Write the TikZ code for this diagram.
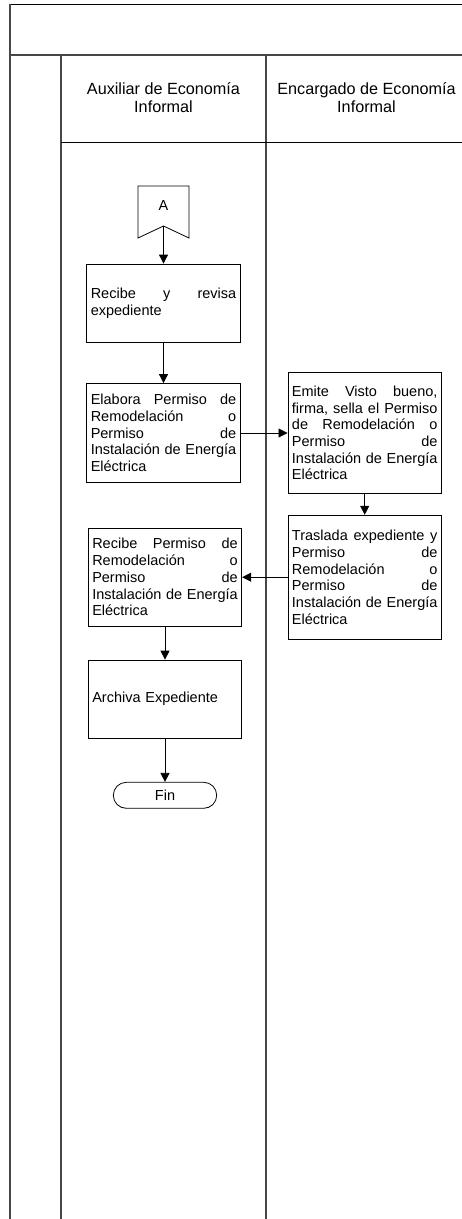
\documentclass[tikz,border=0pt]{standalone}
\usepackage{fontspec}
\setmainfont{Liberation Sans}
\usetikzlibrary{arrows.meta}
\begin{document}
\begin{tikzpicture}[x=1pt,y=-1pt,
  lane/.style={line width=1.7pt, draw=black!72},
  thinlane/.style={line width=1pt, draw=black},
  box/.style={draw, line width=0.8pt, text width=145.5pt, inner xsep=4pt, inner ysep=0pt,
    font=\fontsize{14.5}{16.7}\selectfont, align=left},
  flow/.style={line width=0.8pt, -{Triangle[length=9pt,width=9pt]}},
  head/.style={font=\fontsize{16.2}{18}\selectfont, align=center},
  term/.style={draw, line width=0.8pt, rounded corners=13pt, minimum width=103.4pt,
    minimum height=26pt, inner sep=0pt, font=\fontsize{14.5}{16.7}\selectfont}
]
\useasboundingbox (0,0) rectangle (462,1219);
% swimlane frame
\draw[thinlane] (10,4) -- (462,4);
\draw[lane] (10,4) -- (10,1219);
\draw[lane] (10,55) -- (462,55);
\draw[lane] (61,55) -- (61,1219);
\draw[lane] (266,55) -- (266,1219);
\draw[thinlane] (61,142) -- (462,142);
% headers
\node[head] (h1) at (163.5,98) {Auxiliar de Economía\\Informal};
\node[head] (h2) at (366.5,98) {Encargado de Economía\\Informal};
% off-page connector A
\draw[line width=0.8pt] (138,186) -- (189,186) -- (189,238) -- (163.5,226) -- (138,238) -- cycle;
\node[font=\fontsize{14.5}{16.7}\selectfont] (A) at (163.5,206) {A};
\coordinate (Abot) at (163.5,226);
% process boxes
\node[box, minimum height=78pt] (r1) at (163.5,303)
  {Recibe\hfill y\hfill revisa\\expediente};
\node[box, minimum height=99pt] (r2) at (163.5,433)
  {Elabora\hfill Permiso\hfill de\\Remodelación\hfill o\\Permiso\hfill de\\Instalación\hfill de\hfill Energía\\Eléctrica};
\node[box, minimum height=120.6pt] (r3) at (364.7,433)
  {Emite\hfill Visto\hfill bueno,\\firma,\hfill sella\hfill el\hfill Permiso\\de\hfill Remodelación\hfill o\\Permiso\hfill de\\Instalación\hfill de\hfill Energía\\Eléctrica};
\node[box, minimum height=124pt] (r4) at (364.7,577.2)
  {Traslada\hfill expediente\hfill y\\Permiso\hfill de\\Remodelación\hfill o\\Permiso\hfill de\\Instalación\hfill de\hfill Energía\\Eléctrica};
\node[box, minimum height=98.4pt] (r5) at (165,577.2)
  {Recibe\hfill Permiso\hfill de\\Remodelación\hfill o\\Permiso\hfill de\\Instalación\hfill de\hfill Energía\\Eléctrica};
\node[box, minimum height=78.3pt] (r6) at (165,699.2)
  {Archiva Expediente};
\node[term] (fin) at (165,795.3) {Fin};
% connectors
\draw[flow] (Abot) -- (r1.north);
\draw[flow] (r1.south) -- (r2.north);
\draw[flow] (r2.east) -- (r3.west);
\draw[flow] (r3.south) -- (r4.north);
\draw[flow] (r4.west) -- (r5.east);
\draw[flow] (r5.south) -- (r6.north);
\draw[flow] (r6.south) -- (fin.north);
\end{tikzpicture}
\end{document}
